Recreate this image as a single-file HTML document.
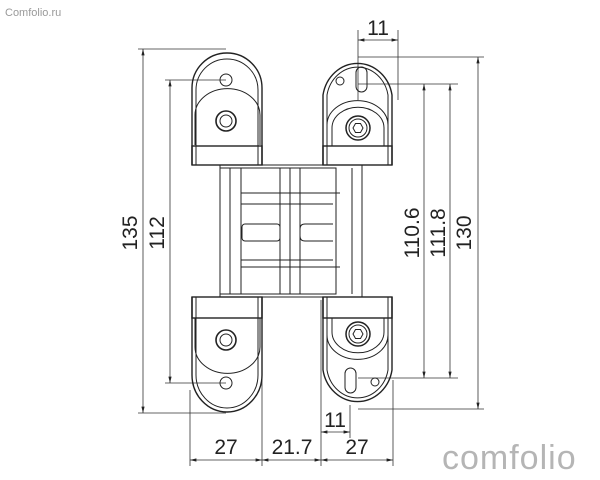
<!DOCTYPE html>
<html><head><meta charset="utf-8"><style>
html,body{margin:0;padding:0;background:#fff;width:600px;height:480px;overflow:hidden}
text{font-family:"Liberation Sans",sans-serif;fill:#222}
</style></head><body>
<svg width="600" height="480" viewBox="0 0 600 480" xmlns="http://www.w3.org/2000/svg">
<defs>
<marker id="a" markerWidth="8" markerHeight="6" refX="8" refY="3" orient="auto-start-reverse"><path d="M0,1 L8,3 L0,5z" fill="#222"/></marker>
</defs>
<text x="5" y="16" font-size="11" fill="#888" style="fill:#999">Comfolio.ru</text>
<text x="442" y="469" font-size="34" style="fill:#b5b5b5" letter-spacing="1">comfolio</text>
<g stroke="#333" stroke-width="0.8" fill="none">
<!-- extension lines -->
<line x1="138" y1="49" x2="226" y2="49"/><line x1="138" y1="413" x2="226" y2="413"/>
<line x1="165" y1="80" x2="226" y2="80"/><line x1="165" y1="383" x2="226" y2="383"/>
<line x1="358" y1="57" x2="484" y2="57"/><line x1="358" y1="409" x2="484" y2="409"/>
<line x1="358" y1="84" x2="458" y2="84"/><line x1="358" y1="378" x2="458" y2="378"/>
<line x1="358" y1="30" x2="358" y2="100"/><line x1="398" y1="30" x2="398" y2="100"/>
<line x1="190" y1="390" x2="190" y2="466"/><line x1="262" y1="300" x2="262" y2="466"/>
<line x1="321" y1="300" x2="321" y2="466"/><line x1="393" y1="380" x2="393" y2="466"/>
<line x1="350" y1="405" x2="350" y2="438"/>
<!-- dim lines -->
<line x1="143" y1="49" x2="143" y2="413" marker-start="url(#a)" marker-end="url(#a)"/>
<line x1="170" y1="80" x2="170" y2="383" marker-start="url(#a)" marker-end="url(#a)"/>
<line x1="424" y1="84" x2="424" y2="378" marker-start="url(#a)" marker-end="url(#a)"/>
<line x1="450" y1="84" x2="450" y2="378" marker-start="url(#a)" marker-end="url(#a)"/>
<line x1="478" y1="57" x2="478" y2="409" marker-start="url(#a)" marker-end="url(#a)"/>
<line x1="358" y1="40" x2="398" y2="40" marker-start="url(#a)" marker-end="url(#a)"/>
<line x1="321" y1="432" x2="350" y2="432" marker-start="url(#a)" marker-end="url(#a)"/>
<line x1="190" y1="460" x2="262" y2="460" marker-start="url(#a)" marker-end="url(#a)"/>
<line x1="262" y1="460" x2="321" y2="460" marker-start="url(#a)" marker-end="url(#a)"/>
<line x1="321" y1="460" x2="393" y2="460" marker-start="url(#a)" marker-end="url(#a)"/>
</g>
<g font-size="21">
<text transform="translate(137,233) rotate(-90)" text-anchor="middle">135</text>
<text transform="translate(164,233) rotate(-90)" text-anchor="middle">112</text>
<text transform="translate(419,233) rotate(-90)" text-anchor="middle">110.6</text>
<text transform="translate(445,233) rotate(-90)" text-anchor="middle">111.8</text>
<text transform="translate(471,233) rotate(-90)" text-anchor="middle">130</text>
<text x="378" y="35" text-anchor="middle">11</text>
<text x="335" y="427" text-anchor="middle">11</text>
<text x="226" y="454" text-anchor="middle">27</text>
<text x="292" y="454" text-anchor="middle">21.7</text>
<text x="357" y="454" text-anchor="middle">27</text>
</g>
<g stroke="#222" stroke-width="1" fill="none">
<!-- middle body -->
<rect x="220" y="165" width="142" height="132"/>
<rect x="241" y="168" width="95" height="126"/>
<rect x="220" y="168" width="21" height="126"/>
<line x1="230" y1="168" x2="230" y2="294"/><line x1="352" y1="168" x2="352" y2="294"/>
<path d="M241,193 L340,193 M241,267 L340,267"/>
<path d="M280,168 V294 M290,168 V294 M300,168 V294"/>
<rect x="242" y="224" width="38" height="17" rx="3"/>
<path d="M333,224 H305 Q300,224 300,229 V236 Q300,241 305,241 H333"/>
<path d="M241,204 H333 M241,260 H333"/>
<!-- left leaf -->
<path d="M192,165 V88 A34,34 0 0 1 262,88 V165" stroke-width="1.4"/>
<path d="M196,165 V90 A30,30 0 0 1 258,90 V165"/>
<path d="M192,297 V375 A35,37 0 0 0 262,375 V297" stroke-width="1.4"/>
<path d="M196,297 V375 A31,33 0 0 0 258,375 V297"/>
<path d="M195,145 V115 A32,26 0 0 1 260,115 V145"/>
<path d="M195,318 V347 A32,26 0 0 0 260,347 V318"/>
<rect x="192" y="146" width="70" height="19" stroke-width="1.4"/>
<rect x="192" y="297" width="70" height="21" stroke-width="1.4"/>
<circle cx="226" cy="80" r="6"/>
<circle cx="226" cy="121" r="10" stroke-width="1.6"/><circle cx="226" cy="121" r="6"/>
<circle cx="226" cy="340" r="10" stroke-width="1.6"/><circle cx="226" cy="340" r="6"/>
<circle cx="226" cy="383" r="6"/>
<!-- right leaf -->
<path d="M323,165 V95 A35,38 0 0 1 392,95 V165" stroke-width="1.4"/>
<path d="M327,165 V95 A31,34 0 0 1 388,95 V165"/>
<path d="M323,297 V370 A35,38 0 0 0 392,370 V297" stroke-width="1.4"/>
<path d="M327,297 V370 A31,34 0 0 0 388,370 V297"/>
<path d="M327,146 V125 A30,24 0 0 1 388,125 V146"/>
<path d="M332,146 V128 A25,20 0 0 1 384,128 V146"/>
<path d="M327,318 V335 A30,24 0 0 0 388,335 V318"/>
<path d="M332,318 V332 A25,20 0 0 0 384,332 V318"/>
<rect x="323" y="146" width="69" height="19" stroke-width="1.4"/>
<rect x="323" y="297" width="69" height="21" stroke-width="1.4"/>
<rect x="356" y="67" width="11" height="25" rx="5.5"/>
<circle cx="340" cy="81" r="4"/>
<circle cx="358" cy="128" r="12" stroke-width="1.5"/><circle cx="358" cy="128" r="9"/>
<polygon points="353,128 355.5,123.5 360.5,123.5 363,128 360.5,132.5 355.5,132.5"/>
<circle cx="358" cy="334" r="12" stroke-width="1.5"/><circle cx="358" cy="334" r="9"/>
<polygon points="353,334 355.5,329.5 360.5,329.5 363,334 360.5,338.5 355.5,338.5"/>
<rect x="345" y="368" width="11" height="25" rx="5.5"/>
<circle cx="375" cy="382" r="4"/>
</g>
</svg>
</body></html>
